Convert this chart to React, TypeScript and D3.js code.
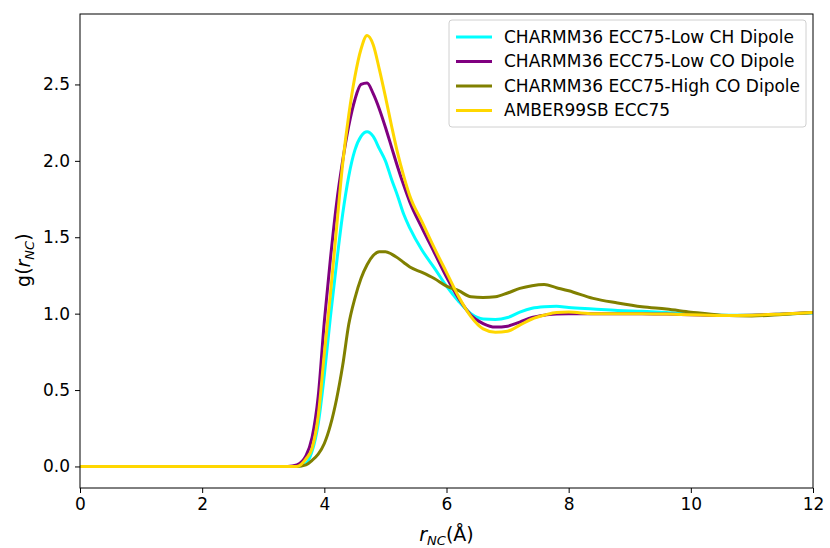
import React, { useEffect, useRef } from "react"
import * as d3 from "d3"

// r (Å) sample positions shared by all series
const rValues = [
  0, 1, 2, 3, 3.4, 3.55, 3.7, 3.8, 3.9, 4.0, 4.1, 4.2, 4.3, 4.4, 4.5, 4.6, 4.7, 4.8, 4.9,
  5.0, 5.1, 5.2, 5.3, 5.4, 5.6, 5.8, 6.0, 6.2, 6.4, 6.6, 6.8, 7.0, 7.2, 7.4, 7.6, 7.8, 8.0,
  8.4, 8.8, 9.2, 9.6, 10.0, 10.5, 11.0, 11.5, 12.0,
]

const lowCH = [
  0, 0, 0, 0, 0, 0, 0.02, 0.1, 0.28, 0.6, 0.98, 1.33, 1.65, 1.9, 2.07, 2.16, 2.19, 2.16,
  2.08, 2.0, 1.88, 1.77, 1.65, 1.56, 1.415, 1.3, 1.18, 1.08, 1.0, 0.965, 0.962, 0.975, 1.01,
  1.035, 1.045, 1.048, 1.04, 1.03, 1.02, 1.015, 1.008, 0.998, 0.99, 0.99, 0.998, 1.005,
]

const lowCO = [
  0, 0, 0, 0, 0, 0.01, 0.07, 0.19, 0.46, 0.95, 1.36, 1.72, 2.0, 2.23, 2.4, 2.5, 2.51, 2.44,
  2.34, 2.22, 2.09, 1.96, 1.84, 1.73, 1.56, 1.4, 1.24, 1.1, 0.99, 0.935, 0.912, 0.918, 0.945,
  0.975, 0.99, 0.997, 1.0, 1.0, 1.0, 1.0, 0.997, 0.993, 0.988, 0.99, 0.998, 1.008,
]

const highCO = [
  0, 0, 0, 0, 0, 0, 0.01, 0.04, 0.08, 0.15, 0.27, 0.44, 0.66, 0.93, 1.1, 1.23, 1.32, 1.38,
  1.405, 1.405, 1.39, 1.365, 1.335, 1.305, 1.27, 1.23, 1.18, 1.15, 1.11, 1.105, 1.11, 1.135,
  1.165, 1.183, 1.19, 1.17, 1.15, 1.1, 1.07, 1.045, 1.03, 1.01, 0.99, 0.985, 0.995, 1.008,
]

const amber = [
  0, 0, 0, 0, 0, 0, 0.05, 0.12, 0.33, 0.74, 1.13, 1.56, 1.98, 2.3, 2.55, 2.73, 2.82, 2.76,
  2.6, 2.42, 2.23, 2.05, 1.9, 1.77, 1.6, 1.43, 1.27, 1.11, 0.98, 0.9, 0.878, 0.885, 0.925,
  0.965, 0.99, 1.008, 1.01, 1.0, 1.0, 1.0, 0.997, 0.993, 0.988, 0.99, 0.998, 1.008,
]

const seriesNames = [
  "CHARMM36 ECC75-Low CH Dipole",
  "CHARMM36 ECC75-Low CO Dipole",
  "CHARMM36 ECC75-High CO Dipole",
  "AMBER99SB ECC75",
]
const seriesValues = [lowCH, lowCO, highCO, amber]
const seriesColors = ["#00ffff", "#800080", "#808000", "#ffd700"]

const xTicks = [0, 2, 4, 6, 8, 10, 12]
const yTicks = [0, 0.5, 1.0, 1.5, 2.0, 2.5]

const App = () => {
  const chart = useRef<HTMLDivElement>(null)

  useEffect(() => {
    document.body.style.margin = "0"
    const svgWidth = 830
    const svgHeight = 548
    const margin = { top: 14, right: 17, bottom: 60, left: 80 }
    const width = svgWidth - margin.left - margin.right
    const height = svgHeight - margin.top - margin.bottom
    const font = "DejaVu Sans, sans-serif"

    d3.select(chart.current).selectAll("*").remove()

    const svg = d3
      .select(chart.current)
      .append("svg")
      .attr("width", svgWidth)
      .attr("height", svgHeight)
      .style("display", "block")

    svg.append("rect").attr("width", svgWidth).attr("height", svgHeight).attr("fill", "#fff")

    const x = d3.scaleLinear().domain([0, 12]).range([0, width])
    const ymax = d3.max(seriesValues, (s) => d3.max(s))!
    const pad = ymax * 0.05
    const y = d3.scaleLinear().domain([-pad, ymax + pad]).range([height, 0])

    const g = svg.append("g").attr("transform", `translate(${margin.left}, ${margin.top})`)

    g.append("clipPath")
      .attr("id", "plot-clip")
      .append("rect")
      .attr("width", width)
      .attr("height", height)

    const line = d3
      .line<number>()
      .x((_, i) => x(rValues[i]))
      .y((d) => y(d))
      .curve(d3.curveMonotoneX)

    const lines = g.append("g").attr("clip-path", "url(#plot-clip)")
    seriesValues.forEach((vals, i) => {
      lines
        .append("path")
        .attr("d", line(vals))
        .attr("fill", "none")
        .attr("stroke", seriesColors[i])
        .attr("stroke-width", 3)
        .attr("stroke-linejoin", "round")
        .attr("stroke-linecap", "square")
    })

    const xAxis = d3.axisBottom(x).tickValues(xTicks).tickFormat(d3.format("d")).tickSize(5).tickPadding(5)
    const yAxis = d3.axisLeft(y).tickValues(yTicks).tickFormat(d3.format(".1f")).tickSize(5).tickPadding(5)

    const xa = g.append("g").attr("transform", `translate(0, ${height})`).call(xAxis)
    const ya = g.append("g").call(yAxis)
    ;[xa, ya].forEach((a) => {
      a.select(".domain").remove()
      a.selectAll("line").attr("stroke", "#000").attr("stroke-width", 1)
      a.selectAll("text").attr("font-family", font).attr("font-size", 17).attr("fill", "#000")
    })

    g.append("rect")
      .attr("width", width)
      .attr("height", height)
      .attr("fill", "none")
      .attr("stroke", "#000")
      .attr("stroke-width", 1)

    // axis labels
    const xl = svg
      .append("text")
      .attr("x", margin.left + width / 2)
      .attr("y", 541)
      .attr("text-anchor", "middle")
      .attr("font-family", font)
      .attr("font-size", 19)
    xl.append("tspan").attr("font-style", "italic").text("r")
    xl.append("tspan").attr("font-style", "italic").attr("font-size", 13).attr("dy", 4).text("NC")
    xl.append("tspan").attr("dy", -4).text("(Å)")

    const yl = svg
      .append("text")
      .attr("transform", `translate(30, ${margin.top + y(1.35)}) rotate(-90)`)
      .attr("text-anchor", "middle")
      .attr("font-family", font)
      .attr("font-size", 19)
    yl.append("tspan").text("g(")
    yl.append("tspan").attr("font-style", "italic").text("r")
    yl.append("tspan").attr("font-style", "italic").attr("font-size", 13).attr("dy", 4).text("NC")
    yl.append("tspan").attr("dy", -4).text(")")

    // legend
    const lg = svg.append("g").attr("transform", "translate(449, 20)")
    lg.append("rect")
      .attr("width", 357)
      .attr("height", 107)
      .attr("rx", 3)
      .attr("fill", "#fff")
      .attr("fill-opacity", 0.8)
      .attr("stroke", "#d0d0d0")
    seriesNames.forEach((name, i) => {
      const row = lg.append("g").attr("transform", `translate(0, ${17 + i * 24.5})`)
      row.append("line")
        .attr("x1", 7)
        .attr("x2", 43)
        .attr("stroke", seriesColors[i])
        .attr("stroke-width", 3)
      row.append("text")
        .attr("x", 55)
        .attr("dy", "0.35em")
        .attr("font-family", font)
        .attr("font-size", 17)
        .text(name)
    })
  })

  return <div ref={chart} />
}

export default App
